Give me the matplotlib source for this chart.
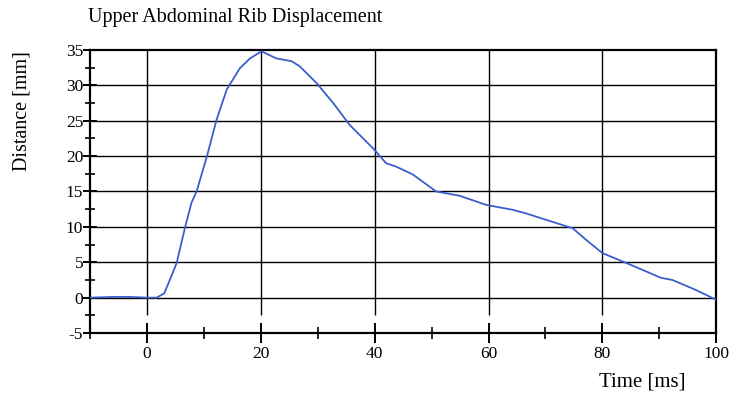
import matplotlib.pyplot as plt
from matplotlib.ticker import MultipleLocator

# valores
time_ms = [-10, -6, -3, 0, 1.7, 3, 4.0, 5.2, 6.7, 7.8, 8.7, 10.5, 12.2, 14, 16.3, 18.1, 20.1,
           22.7, 25.4, 26.8, 29.8, 32.7, 35.6, 39.7, 42, 43.8, 46.7, 50.8, 54.9, 59.6, 64.3,
           66.6, 70.1, 74.8, 77.1, 80, 84.2, 87.7, 90.3, 92.3, 96.4, 100]
distance_mm = [0, 0.1, 0.1, 0, 0, 0.6, 2.5, 4.9, 10, 13.4, 15, 19.9, 25.1, 29.4, 32.4, 33.8, 34.8,
               33.8, 33.4, 32.7, 30.3, 27.5, 24.4, 21.1, 19.0, 18.5, 17.4, 15.0, 14.4, 13.1, 12.4,
               11.9, 11.0, 9.8, 8.2, 6.3, 4.9, 3.7, 2.8, 2.5, 1.1, -0.3]

x_major = [0, 20, 40, 60, 80, 100]
y_major = [-5, 0, 5, 10, 15, 20, 25, 30, 35]

plt.rcParams['font.family'] = 'Liberation Serif'
plt.rcParams['axes.unicode_minus'] = False

fig = plt.figure(figsize=(7.33, 3.96), dpi=100)
ax = fig.add_axes([0.123, 0.159, 0.854, 0.715])

# rejilla
for y in y_major[1:-1]:
    ax.axhline(y, color='black', lw=1.0, zorder=1)
for x in x_major[:-1]:
    ax.vlines(x, -2.5, 35, color='black', lw=1.0, zorder=1)

ax.plot(time_ms, distance_mm, color='#3a5fcd', lw=1.3, zorder=3)

ax.set_xlim(-10, 100)
ax.set_ylim(-5, 35)
ax.xaxis.set_major_locator(MultipleLocator(20))
ax.xaxis.set_minor_locator(MultipleLocator(10))
ax.yaxis.set_major_locator(MultipleLocator(5))
ax.yaxis.set_minor_locator(MultipleLocator(2.5))
ax.set_xticks(x_major)
ax.tick_params(axis='x', which='major', direction='inout', length=14, width=1.4,
               labelsize=12.5, pad=2)
ax.tick_params(axis='x', which='minor', direction='inout', length=9, width=1.2)
ax.tick_params(axis='y', which='major', direction='inout', length=10, width=1.4,
               labelsize=12.5, pad=0)
ax.tick_params(axis='y', which='minor', direction='inout', length=7, width=1.2)
for s in ax.spines.values():
    s.set_linewidth(1.6)

fig.text(0.12, 0.955, "Upper Abdominal Rib Displacement", fontsize=14.5, ha='left', va='center')
fig.text(0.03, 0.72, "Distance [mm]", fontsize=14.5, rotation=90, ha='center', va='center')
fig.text(0.935, 0.035, "Time [ms]", fontsize=15, ha='right', va='center')

fig.savefig("out.png", dpi=100)
